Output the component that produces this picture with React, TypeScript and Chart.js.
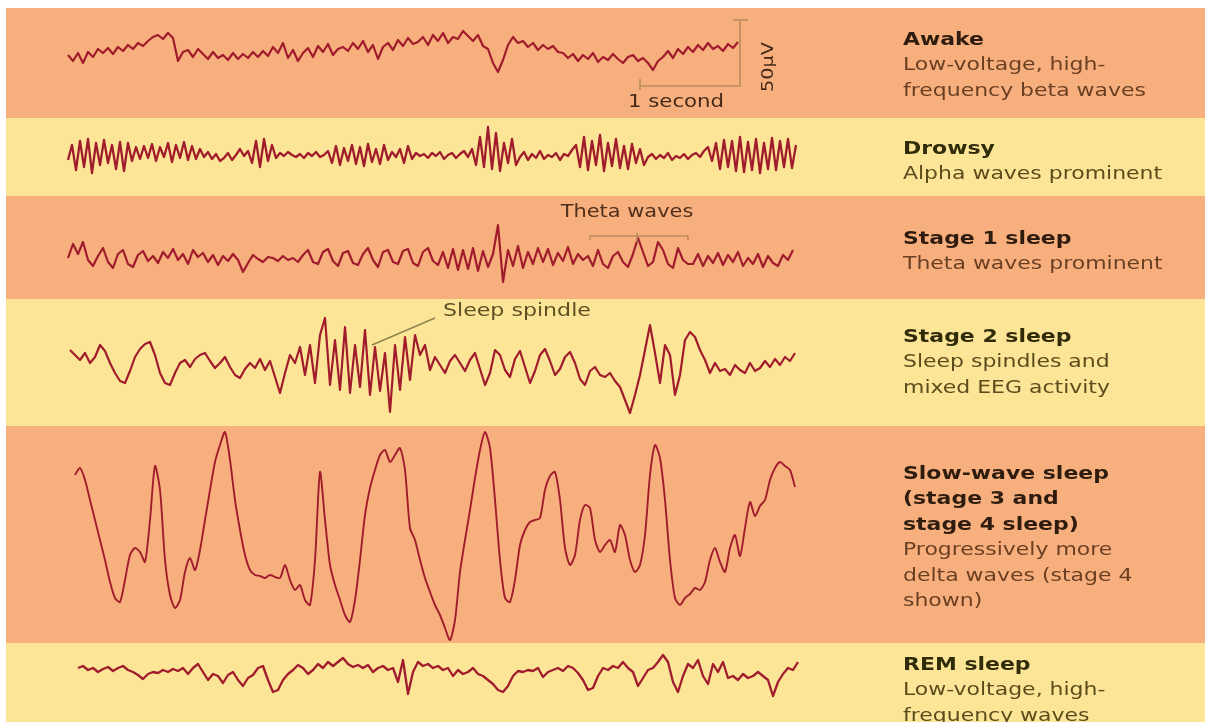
import { useEffect, useRef } from 'react';
import { Chart, registerables } from 'chart.js';

Chart.register(...registerables);

// ---- time axis (seconds) ----
const TIME_MIN = 0;
const TIME_MAX = 7.3;
const UNITS_PER_UV = 66 / 50; // amplitude units per microvolt (scale bar)

// ---- EEG traces: amplitude values (units above baseline) ----
const AWAKE_START = 0;
const AWAKE_DT = 0.05;
const AWAKE = [
  0, -6, 2, -8, 3, -2, 6, 2, 7, 1, 8, 4, 10, 6, 12, 9, 14, 18, 20, 16, 22, 17, -6, 3,
  5, -2, 6, 1, -4, 3, -3, 0, -5, 2, -4, 1, -3, 3, -2, 4, -1, 8, 2, 12, -3, 5, -6,
  2, 7, -2, 9, 3, 11, 0, 6, 8, 4, 12, 6, 14, 3, 10, -4, 8, 12, 5, 15, 9, 17, 11, 13, 18, 10,
  20, 14, 22, 12, 18, 16, 24, 19, 14, 20, 9, 6, -8, -17, -5, 10, 18, 12, 14, 8, 12, 5, 10, 6, 9, 3,
  2, -3, 1, -6, 0, -4, 2, -7, -2, -5, 1, -4, -8, -2, 0, -6, -3, -8, -15, -6,
  -2, 4, -3, 6, 1, 8, 3, 10, 5, 12, 6, 9, 4, 11, 7, 13,
];

const DROWSY_START = 0;
const DROWSY_DT = 0.04;
const DROWSY = [
  -5, 10, -15, 14, -12, 16, -18, 12, -10, 15, -8,
  10, -14, 13, -16, 12, -6, 8,
  -4, 9, -3, 11, -6, 8, -2, 12, -7, 10, -3, 13, -5, 9, -4, 6,
  -2, 3, -4, 1, -6, -3, 2, -5, 0, 6, -1, 4,
  -8, 14, -12, 16, -6, 10, -3,
  2, -1, 3, 0, -2, 1, -3, 2, -1, 3, -2, 0,
  4, -8, 9, -10, 7, -6, 10, -9, 8, -11, 11, -7, 6, -9, 10, -5, 3, -2, 6, -8, 9, -4, 2, -1,
  1, -3, 2, -1, 3, -4, 0, 2, -3, 1, 4, -2,
  6, -10, 18, -12, 28, -14, 22, -16, 12, -8, 16, -10,
  -2, 3, -5, 1, -3, 4, -4, 0, -2, 2, -5, 1, -1, 5,
  10, -12, 18, -15, 14, -10, 20, -16, 12, -11, 16, -13, 9, -14, 11, -8, 6, -10,
  -2, 1, -4, 0, -3, 2, -5, -1, -3, 1, -4, 0, 2, -2, 4,
  8, -6, 12, -14, 15, -12, 14, -16, 18, -17, 13, -15, 16, -18, 12, -14, 17, -15, 14, -12, 16, -13, 10,
];

const STAGE1_START = 0;
const STAGE1_DT = 0.05;
const STAGE1 = [
  0, 14, 4, 16, -2, -8, 2,
  10, -4, -10, 4, 8, -6, -9, 3,
  7, -3, 2, -5, 6, 0, 9, -2, 4, -6, 8, 1, 5, -4, 3, -7, 2, -3,
  4, -2, -14, -5, 3, -1,
  -4, 1, 0, -3, 2, -2, 0, -4,
  3, 8, -4, -6, 6, 9, -3, -8, 5, 7, -5, -7, 4, 10, -2, -9, 6, 8, -4, -6, 7, 9, -5, -8, 6, 10, -3, -7,
  6, -10, 9, -12, 8, -11, 10, -13, 7, -9, 4,
  33, -24,
  8, -8, 12, -10, 6, -6, 10, -4, 9, -7, 5, -3, 11, -6, 4, -2,
  2, -8, 8, -6, -10, 2, 6, -4, -9, 4, 20, 6, -8, -4, 16, 8, -6, -10, 10, -2, -6,
  -6, 4, -8, 2, -5, 5, -7, 3, -4, 6, -8, 0, -6, 4, -9, 2, -5, -8, 3, -2, 8,
];

const STAGE2_START = 0.02;
const STAGE2_DT = 0.05;
const STAGE2 = [
  15, 10, 5, 12, 2, 8, 20,
  14, 2, -8, -16, -18, -6, 8, 16, 21, 23, 10, -8, -18, -20, -8, 2,
  5, -2, 6, 10, 12, 4, -3, 2, 8, -2, -10, -13, -4, 2, -3,
  6, -5, 4, -12, -28, -8, 10, 2, 18,
  -10, 20, -18, 30, 47, -20, 25, -25, 38, -28, 20, -22, 35, -30, 18, -26, 12, -47, 20, -25, 28, -15, 30, 10,
  20, -5, 8, 0, -8, 4, 10, 2, -6, 5,
  12, -4, -20, -8, 15, 10, -5, -12, 6, 14, -2, -18, -6, 10, 16, 4, -10, -4, 8, 13, 2, -14, -20, -6, -2, -10,
  -12, -8, -16, -22, -35, -48, -30, -10,
  15, 40, 12, -18, 20, 10, -30, -10, 25, 33, 28, 15,
  5, -8, 2, -6, -4, -10, 0, -5, -8, 2, -6, -3, 4, -2, 6, 0, 8, 4, 12,
];

const SWS_START = 0.07;
const SWS_DT = 0.05;
const SWS = [
  55, 62, 50, 30, 10, -10, -30, -52, -68, -72,
  -50, -25, -18, -22, -32, 10, 64, 40, -30, -65,
  -78, -70, -42, -28, -40, -20, 10, 40, 68, 85,
  98, 70, 30, 0, -25, -40, -45, -46, -48, -45,
  -47, -48, -35, -50, -60, -55, -70, -75, -30, 58,
  10, -35, -55, -70, -85, -92, -70, -30, 15, 42,
  60, 75, 80, 68, 75, 82, 60, 2, -10, -30,
  -48, -62, -75, -85, -98, -110, -90, -42, -10, 20,
  52, 80, 98, 82, 30, -30, -68, -72, -50, -15,
  0, 8, 10, 12, 40, 54, 58, 30, -18, -35,
  -25, 10, 25, 22, -10, -22, -15, -10, -22, 5,
  -5, -30, -42, -35, -5, 55, 85, 72, 30, -30,
  -68, -75, -68, -64, -58, -60, -52, -30, -18, -32,
  -42, -18, -5, -26, 2, 28, 14, 24, 30, 50,
  62, 68, 64, 60, 43,
];

const REM_START = 0.1;
const REM_DT = 0.05;
const REM = [
  4, 6, 2, 4, 0, 3, 5, 1, 4, 6, 2, 0, -3, -7, -2, 0, -1, 2, 0, 3,
  1, 4, -2, 4, 8, 0, -8, -2, -4, -11, -3, 0, -8, -14, -6, -3, 4, 6, -8, -20,
  -18, -8, -2, 2, 7, 4, -2, 2, 8, 4, 10, 6, 10, 14, 8, 5, 7, 4, 7, 0,
  4, 6, 2, 4, -10, 12, -22, 0, 10, 6, 8, 4, 6, 2, 4, -4, 2, -2, 0, 4,
  -2, -4, -8, -12, -18, -20, -14, -4, 1, 0, 2, 1, 4, -5, 0, 2, 4, 1, 6, 4,
  -1, -8, -18, -16, -4, 4, 2, 6, 4, 10, 4, 0, -14, -6, 2, 4, 10, 17, 10, -10,
  -20, -4, 8, 4, 12, -4, -12, 8, 0, 10, -6, -4, -8, -2, -6, -4, 0, -4, -8, -24,
  -10, -2, 4, 2, 10,
];

// ---- labels ----
const AWAKE_TITLE = ['Awake'];
const AWAKE_DESC = ['Low-voltage, high-', 'frequency beta waves'];
const DROWSY_TITLE = ['Drowsy'];
const DROWSY_DESC = ['Alpha waves prominent'];
const STAGE1_TITLE = ['Stage 1 sleep'];
const STAGE1_DESC = ['Theta waves prominent'];
const STAGE2_TITLE = ['Stage 2 sleep'];
const STAGE2_DESC = ['Sleep spindles and', 'mixed EEG activity'];
const SWS_TITLE = ['Slow-wave sleep', '(stage 3 and', 'stage 4 sleep)'];
const SWS_DESC = ['Progressively more', 'delta waves (stage 4', 'shown)'];
const REM_TITLE = ['REM sleep'];
const REM_DESC = ['Low-voltage, high-', 'frequency waves'];

// ---- styling ----
const W = 1199;
const ORANGE = '#F8AF7E';
const YELLOW = '#FDE598';
const TRACE = '#A01C2D';
const ANNOT_LINE = '#B98A5E';
const FONT = '"DejaVu Sans", "Noto Sans", sans-serif';
const STRETCH = 1.22;

type Ctx = CanvasRenderingContext2D;

function strokePath(ctx: Ctx, pts: number[][], color: string, w = 1.5) {
  ctx.save();
  ctx.strokeStyle = color;
  ctx.lineWidth = w;
  ctx.beginPath();
  pts.forEach((p, i) => (i === 0 ? ctx.moveTo(p[0], p[1]) : ctx.lineTo(p[0], p[1])));
  ctx.stroke();
  ctx.restore();
}

function drawText(ctx: Ctx, str: string, x: number, y: number, color: string, align: CanvasTextAlign, size = 17, rot = 0, stretch = STRETCH) {
  ctx.save();
  ctx.translate(x, y);
  if (rot) ctx.rotate(rot);
  ctx.scale(stretch, 1);
  ctx.font = `${size}px ${FONT}`;
  ctx.fillStyle = color;
  ctx.textAlign = align;
  ctx.textBaseline = 'middle';
  ctx.fillText(str, 0, 0);
  ctx.restore();
}

function mappers(chart: any) {
  const xs = chart.scales.x;
  const ys = chart.scales.y;
  return {
    X: (t: number) => xs.getPixelForValue(t),
    Y: (v: number) => ys.getPixelForValue(v),
  };
}

// scale bar: starts at 5.72 s, 1 second long, 50 µV tall
const SCALE_BAR_T0 = 5.72;
const SCALE_BAR_BASE = -31;

function annotateAwake(chart: any) {
  const ctx: Ctx = chart.ctx;
  const { X, Y } = mappers(chart);
  const t0 = SCALE_BAR_T0;
  const t1 = t0 + 1;
  const base = SCALE_BAR_BASE;
  const top = base + 50 * UNITS_PER_UV;
  strokePath(ctx, [[X(t0), Y(base)], [X(t1), Y(base)], [X(t1), Y(top)]], ANNOT_LINE, 1.6);
  strokePath(ctx, [[X(t0), Y(base + 7)], [X(t0), Y(base - 4)]], ANNOT_LINE, 1.6);
  strokePath(ctx, [[X(t1) - 7, Y(top)], [X(t1) + 8, Y(top)]], ANNOT_LINE, 1.6);
  drawText(ctx, '1 second', X(t0 + 0.36), Y(base - 17), '#43291A', 'center', 17, 0, 1.25);
  drawText(ctx, '50µV', X(t1) + 29, Y(base + 19), '#43291A', 'center', 16, -Math.PI / 2, 1.2);
}

function annotateStage1(chart: any) {
  const ctx: Ctx = chart.ctx;
  const { X, Y } = mappers(chart);
  const a = 5.22, b = 6.2, mid = 5.69, lvl = 22;
  strokePath(ctx, [[X(a), Y(lvl - 4)], [X(a), Y(lvl)], [X(b), Y(lvl)], [X(b), Y(lvl - 4)]], ANNOT_LINE, 1.5);
  strokePath(ctx, [[X(mid), Y(lvl + 3)], [X(mid), Y(lvl - 6)]], ANNOT_LINE, 1.5);
  drawText(ctx, 'Theta waves', X(5.59), Y(45), '#4E301C', 'center', 17, 0, 1.23);
}

function annotateStage2(chart: any) {
  const ctx: Ctx = chart.ctx;
  const { X, Y } = mappers(chart);
  strokePath(ctx, [[X(3.67), Y(47)], [X(3.04), Y(20)]], '#8E8450', 1.5);
  drawText(ctx, 'Sleep spindle', X(3.75), Y(53), '#5E5024', 'left', 17, 0, 1.3);
}

type Band = {
  title: string[];
  desc: string[];
  bg: string;
  data: number[];
  start: number;
  dt: number;
  yMax: number;
  yMin: number;
  textTop: number;
  lineWidth: number;
  tension: number;
  titleColor: string;
  descColor: string;
  annotate?: (chart: any) => void;
};

const BANDS: Band[] = [
  { title: AWAKE_TITLE, desc: AWAKE_DESC, bg: ORANGE, data: AWAKE, start: AWAKE_START, dt: AWAKE_DT, yMax: 47, yMin: -63, textTop: 17.5, lineWidth: 2.2, tension: 0, titleColor: '#2E1C0E', descColor: '#6A3F22', annotate: annotateAwake },
  { title: DROWSY_TITLE, desc: DROWSY_DESC, bg: YELLOW, data: DROWSY, start: DROWSY_START, dt: DROWSY_DT, yMax: 37, yMin: -41, textTop: 16.5, lineWidth: 2.3, tension: 0, titleColor: '#302B08', descColor: '#5C4C1C' },
  { title: STAGE1_TITLE, desc: STAGE1_DESC, bg: ORANGE, data: STAGE1, start: STAGE1_START, dt: STAGE1_DT, yMax: 62, yMin: -41, textTop: 28.5, lineWidth: 2.2, tension: 0, titleColor: '#2E1C0E', descColor: '#6A3F22', annotate: annotateStage1 },
  { title: STAGE2_TITLE, desc: STAGE2_DESC, bg: YELLOW, data: STAGE2, start: STAGE2_START, dt: STAGE2_DT, yMax: 66, yMin: -61, textTop: 23.5, lineWidth: 2.2, tension: 0, titleColor: '#302B08', descColor: '#5C4C1C', annotate: annotateStage2 },
  { title: SWS_TITLE, desc: SWS_DESC, bg: ORANGE, data: SWS, start: SWS_START, dt: SWS_DT, yMax: 104, yMin: -113, textTop: 33.5, lineWidth: 1.9, tension: 0.25, titleColor: '#2E1C0E', descColor: '#6A3F22' },
  { title: REM_TITLE, desc: REM_DESC, bg: YELLOW, data: REM, start: REM_START, dt: REM_DT, yMax: 29, yMin: -50, textTop: 7.5, lineWidth: 2.3, tension: 0, titleColor: '#302B08', descColor: '#5C4C1C' },
];

function BandRow({ band }: { band: Band }) {
  const ref = useRef<HTMLCanvasElement>(null);
  const height = band.yMax - band.yMin;
  useEffect(() => {
    const canvas = ref.current;
    if (!canvas) return;
    const pts = band.data.map((v, i) => ({ x: band.start + i * band.dt, y: v }));
    const chart = new Chart(canvas, {
      type: 'line',
      data: {
        datasets: [
          {
            data: pts,
            borderColor: TRACE,
            borderWidth: band.lineWidth,
            pointRadius: 0,
            tension: band.tension,
            fill: false,
            clip: false as any,
            borderJoinStyle: 'round',
          } as any,
        ],
      },
      options: {
        animation: false,
        responsive: false,
        maintainAspectRatio: false,
        events: [],
        layout: { padding: { left: 62, right: 407, top: 0, bottom: 0 } },
        plugins: { legend: { display: false }, tooltip: { enabled: false } },
        scales: {
          x: { type: 'linear', min: TIME_MIN, max: TIME_MAX, display: false },
          y: { type: 'linear', min: band.yMin, max: band.yMax, display: false },
        },
      },
      plugins: [
        {
          id: 'annot',
          afterDatasetsDraw(c: any) {
            if (band.annotate) band.annotate(c);
          },
        },
      ],
    });
    return () => chart.destroy();
  }, [band]);

  return (
    <div style={{ position: 'relative', width: W, height, background: band.bg, overflow: 'hidden' }}>
      <canvas ref={ref} width={W} height={height} style={{ position: 'absolute', left: 0, top: 0, width: W, height, display: 'block' }} />
      <div
        style={{
          position: 'absolute',
          left: 897,
          top: band.textTop,
          transform: `scaleX(${STRETCH})`,
          transformOrigin: 'left top',
          fontFamily: FONT,
          fontSize: 18,
          lineHeight: '25.5px',
          whiteSpace: 'nowrap',
        }}
      >
        {band.title.map((t, i) => (
          <div key={'t' + i} style={{ fontWeight: 700, color: band.titleColor }}>{t}</div>
        ))}
        {band.desc.map((t, i) => (
          <div key={'d' + i} style={{ color: band.descColor }}>{t}</div>
        ))}
      </div>
    </div>
  );
}

export default function App() {
  useEffect(() => {
    document.body.style.margin = '0';
    document.body.style.overflow = 'hidden';
    document.body.style.background = '#ffffff';
  }, []);
  return (
    <div style={{ position: 'absolute', left: 6, top: 8, width: W, height: 714, overflow: 'hidden' }}>
      {BANDS.map((b, i) => (
        <BandRow key={i} band={b} />
      ))}
    </div>
  );
}
